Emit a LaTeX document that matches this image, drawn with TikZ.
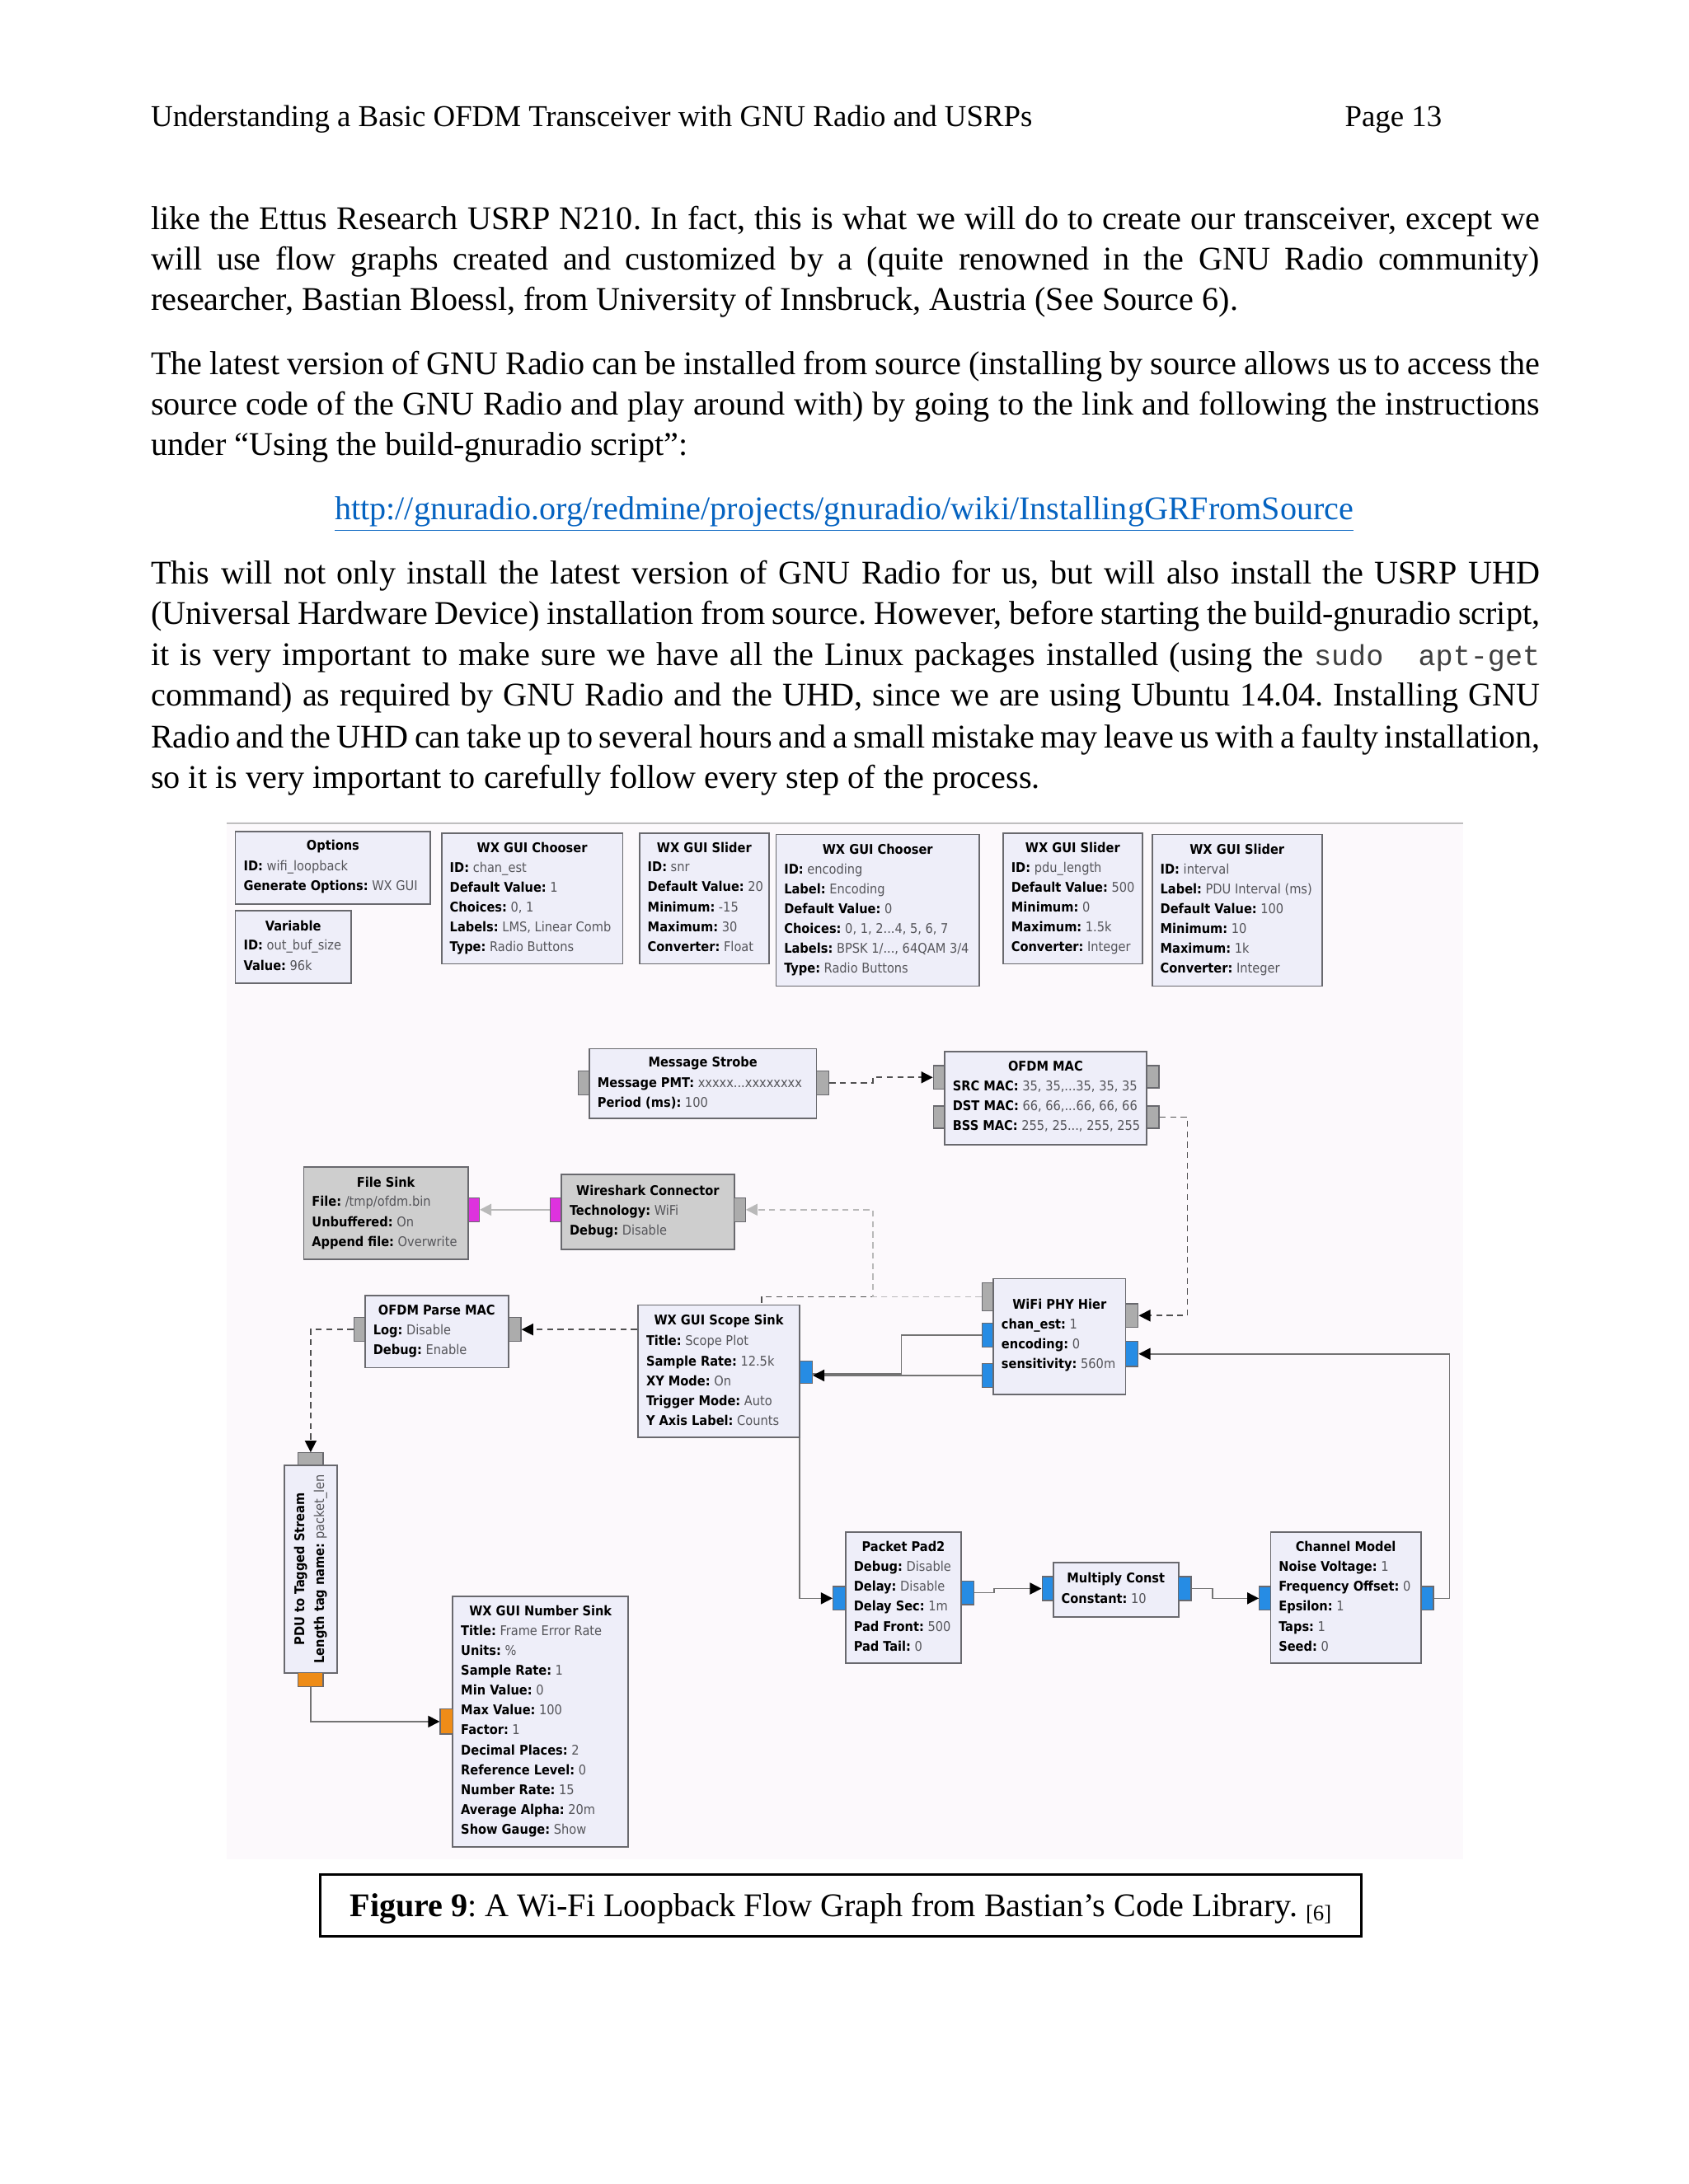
\documentclass[tikz,border=0pt]{standalone}
\usepackage{fontspec}
\setmainfont{Liberation Serif}
\setmonofont{Liberation Mono}
\newfontfamily\gfam{DejaVu Sans Condensed}
\usetikzlibrary{arrows.meta,fit,calc}
\pgfdeclarelayer{back}\pgfdeclarelayer{wires}
\pgfsetlayers{back,wires,main}
\frenchspacing
\definecolor{blkfill}{RGB}{238,238,249}
\definecolor{offfill}{RGB}{206,206,206}
\definecolor{blkedge}{RGB}{105,105,110}
\definecolor{portgray}{RGB}{172,172,172}
\definecolor{portblue}{RGB}{38,140,228}
\definecolor{portmag}{RGB}{222,50,222}
\definecolor{portorg}{RGB}{238,140,24}
\definecolor{figbg}{RGB}{252,249,252}
\definecolor{valc}{RGB}{85,85,90}
\definecolor{wire}{RGB}{115,115,115}
\definecolor{msgc}{RGB}{80,80,80}
\definecolor{offwire}{RGB}{185,185,185}
\definecolor{urlblue}{RGB}{5,99,193}
\newcommand\gfont{\gfam\fontsize{4.85}{7.2}\selectfont}
\newcommand\pv[2]{\textbf{#1:} {\color{valc}#2}}
\tikzset{
  blk/.style={draw=blkedge, line width=0.5pt, fill=blkfill, inner sep=0pt},
  offblk/.style={blk, fill=offfill},
  gportst/.style={draw=blkedge, line width=0.4pt, inner sep=0pt},
  tipblack/.style={-{Triangle[length=4.2pt,width=4.2pt,color=black]}},
  flow/.style={draw=wire, line width=0.5pt, tipblack},
  msgw/.style={draw=msgc, line width=0.5pt, dash pattern=on 2.2pt off 1.6pt, tipblack},
  offw/.style={draw=offwire, line width=0.5pt, dash pattern=on 2.2pt off 1.6pt, -{Triangle[length=4.2pt,width=4.2pt,color=offwire]}},
  offsolid/.style={draw=offwire, line width=0.6pt, -{Triangle[length=4.2pt,width=4.2pt,color=offwire]}},
  bodytext/.style={anchor=base west, inner sep=0pt, font=\fontsize{12}{14}\selectfont\frenchspacing},
  headtext/.style={anchor=base west, inner sep=0pt, font=\fontsize{11}{13}\selectfont},
}
\newcommand\gblock[7][11]{%
  \node[#5, fit={(#3) (#4)}] (#2) {};
  \node[font=\gfont\bfseries, inner sep=0pt] (#2t) at ($(#2.north)+(0,#1)$) {#6};
  \node[font=\gfont, align=left, inner sep=0pt, anchor=north west] (#2p) at ($(#2.north west)+(6,#1+10)$) {#7};}
\newcommand\gport[4]{\node[gportst, fill=#4, fit={(#2) (#3)}] (#1) {};}
\newcommand\jline[3]{\node[bodytext] (#1) at #2 {\makebox[503.5pt][s]{#3}};}
\begin{document}
\begin{tikzpicture}[x=0.505pt,y=-0.505pt]
\useasboundingbox (0,0) rectangle (1212,1568);
\begin{pgfonlayer}{back}
\fill[white] (0,0) rectangle (1212,1568);
\fill[figbg] (163,590) rectangle (1050,1335);
\draw[black!25, line width=0.6pt] (163,591) -- (1050,591);
\end{pgfonlayer}

% ---------- page text ----------
\node[headtext] (hdl) at (108,91) {Understanding a Basic OFDM Transceiver with GNU Radio and USRPs};
\node[headtext] (hdr) at (965,91) {Page 13};

\jline{pa1}{(108,165)}{like the Ettus Research USRP N210. In fact, this is what we will do to create our transceiver, except we}
\jline{pa2}{(108,194)}{will use flow graphs created and customized by a (quite renowned in the GNU Radio community)}
\node[bodytext] (pa3) at (108,223) {researcher, Bastian Bloessl, from University of Innsbruck, Austria (See Source 6).};

\jline{pb1}{(108,269)}{The latest version of GNU Radio can be installed from source (installing by source allows us to access the}
\jline{pb2}{(108,298)}{source code of the GNU Radio and play around with) by going to the link and following the instructions}
\node[bodytext] (pb3) at (108,327) {under “Using the build-gnuradio script”:};

\node[bodytext, anchor=base] (url) at (606,373) {\color{urlblue}\underline{http://gnuradio.org/redmine/projects/gnuradio/wiki/InstallingGRFromSource}};

\jline{pc1}{(108,419)}{This will not only install the latest version of GNU Radio for us, but will also install the USRP UHD}
\jline{pc2}{(108,448)}{(Universal Hardware Device) installation from source. However, before starting the build-gnuradio script,}
\jline{pc3}{(108,478)}{it is very important to make sure we have all the Linux packages installed (using the {\ttfamily\fontsize{10.5}{12}\selectfont\color{black!75}sudo~~apt-get}}
\jline{pc4}{(108,507)}{command) as required by GNU Radio and the UHD, since we are using Ubuntu 14.04. Installing GNU}
\jline{pc5}{(108,537)}{Radio and the UHD can take up to several hours and a small mistake may leave us with a faulty installation,}
\node[bodytext] (pc6) at (108,566) {so it is very important to carefully follow every step of the process.};

% ---------- flow graph blocks ----------
\gblock{opt}{169,597}{309,649}{blk}{Options}{\pv{ID}{wifi\_loopback}\\\pv{Generate Options}{WX GUI}}
\gblock{var}{169,654}{252,706}{blk}{Variable}{\pv{ID}{out\_buf\_size}\\\pv{Value}{96k}}
\gblock{chA}{317,598}{447,692}{blk}{WX GUI Chooser}{\pv{ID}{chan\_est}\\\pv{Default Value}{1}\\\pv{Choices}{0, 1}\\\pv{Labels}{LMS, Linear Comb}\\\pv{Type}{Radio Buttons}}
\gblock{slA}{459,598}{552,692}{blk}{WX GUI Slider}{\pv{ID}{snr}\\\pv{Default Value}{20}\\\pv{Minimum}{-15}\\\pv{Maximum}{30}\\\pv{Converter}{Float}}
\gblock{chB}{557,599}{703,708}{blk}{WX GUI Chooser}{\pv{ID}{encoding}\\\pv{Label}{Encoding}\\\pv{Default Value}{0}\\\pv{Choices}{0, 1, 2...4, 5, 6, 7}\\\pv{Labels}{BPSK 1/..., 64QAM 3/4}\\\pv{Type}{Radio Buttons}}
\gblock{slB}{720,598}{820,692}{blk}{WX GUI Slider}{\pv{ID}{pdu\_length}\\\pv{Default Value}{500}\\\pv{Minimum}{0}\\\pv{Maximum}{1.5k}\\\pv{Converter}{Integer}}
\gblock{slC}{827,599}{949,708}{blk}{WX GUI Slider}{\pv{ID}{interval}\\\pv{Label}{PDU Interval (ms)}\\\pv{Default Value}{100}\\\pv{Minimum}{10}\\\pv{Maximum}{1k}\\\pv{Converter}{Integer}}

\gblock{ms}{423,753}{586,803}{blk}{Message Strobe}{\pv{Message PMT}{xxxxx...xxxxxxxx}\\\pv{Period (ms)}{100}}
\gblock{mac}{678,755}{823,822}{blk}{OFDM MAC}{\pv{SRC MAC}{35, 35,...35, 35, 35}\\\pv{DST MAC}{66, 66,...66, 66, 66}\\\pv{BSS MAC}{255, 25..., 255, 255}}
\gblock{fs}{218,838}{336,904}{offblk}{File Sink}{\pv{File}{/tmp/ofdm.bin}\\\pv{Unbuffered}{On}\\\pv{Append file}{Overwrite}}
\gblock[12]{ws}{403,843}{527,897}{offblk}{Wireshark Connector}{\pv{Technology}{WiFi}\\\pv{Debug}{Disable}}
\gblock{pm}{262,930}{365,982}{blk}{OFDM Parse MAC}{\pv{Log}{Disable}\\\pv{Debug}{Enable}}
\gblock[12]{sc}{458,937}{574,1032}{blk}{WX GUI Scope Sink}{\pv{Title}{Scope Plot}\\\pv{Sample Rate}{12.5k}\\\pv{XY Mode}{On}\\\pv{Trigger Mode}{Auto}\\\pv{Y Axis Label}{Counts}}
\gblock[19]{phy}{713,918}{808,1001}{blk}{WiFi PHY Hier}{\pv{chan\_est}{1}\\\pv{encoding}{0}\\\pv{sensitivity}{560m}}
\gblock{pp}{607,1100}{690,1194}{blk}{Packet Pad2}{\pv{Debug}{Disable}\\\pv{Delay}{Disable}\\\pv{Delay Sec}{1m}\\\pv{Pad Front}{500}\\\pv{Pad Tail}{0}}
\gblock[12]{mc}{756,1122}{846,1161}{blk}{Multiply Const}{\pv{Constant}{10}}
\gblock{cm}{912,1100}{1020,1194}{blk}{Channel Model}{\pv{Noise Voltage}{1}\\\pv{Frequency Offset}{0}\\\pv{Epsilon}{1}\\\pv{Taps}{1}\\\pv{Seed}{0}}
\gblock{ns}{325,1146}{451,1326}{blk}{WX GUI Number Sink}{\pv{Title}{Frame Error Rate}\\\pv{Units}{\%}\\\pv{Sample Rate}{1}\\\pv{Min Value}{0}\\\pv{Max Value}{100}\\\pv{Factor}{1}\\\pv{Decimal Places}{2}\\\pv{Reference Level}{0}\\\pv{Number Rate}{15}\\\pv{Average Alpha}{20m}\\\pv{Show Gauge}{Show}}

\node[blk, fit={(204,1052) (242,1201)}] (pdu) {};
\node[rotate=90, align=center, font=\gfont, inner sep=0pt] (pdut) at (pdu.center) {\textbf{PDU to Tagged Stream}\\\pv{Length tag name}{packet\_len}};

% ---------- ports ----------
\gport{msin}{415,769}{423,786}{portgray}
\gport{msout}{586,769}{595,786}{portgray}
\gport{macinA}{670,765}{678,782}{portgray}
\gport{macinB}{670,794}{678,810}{portgray}
\gport{macoutA}{823,765}{832,781}{portgray}
\gport{macoutB}{823,794}{832,810}{portgray}
\gport{fsin}{336,860}{344,877}{portmag}
\gport{wsout}{395,860}{403,877}{portmag}
\gport{wsin}{527,860}{535,877}{portgray}
\gport{pmin}{365,946}{374,963}{portgray}
\gport{pmout}{254,946}{262,963}{portgray}
\gport{scin}{574,977}{583,993}{portblue}
\gport{phymo}{705,921}{713,941}{portgray}
\gport{phyoA}{705,950}{713,967}{portblue}
\gport{phyoB}{705,979}{713,996}{portblue}
\gport{phymi}{808,936}{817,953}{portgray}
\gport{phyi}{808,963}{817,981}{portblue}
\gport{pduin}{214,1043}{232,1052}{portgray}
\gport{pduout}{214,1201}{232,1211}{portorg}
\gport{nsin}{316,1227}{325,1245}{portorg}
\gport{ppin}{598,1139}{607,1156}{portblue}
\gport{ppout}{690,1135}{699,1152}{portblue}
\gport{mcin}{748,1132}{756,1149}{portblue}
\gport{mcout}{846,1132}{855,1149}{portblue}
\gport{cmin}{904,1139}{912,1156}{portblue}
\gport{cmout}{1020,1139}{1029,1156}{portblue}

% ---------- connectors ----------
\coordinate (bA) at (647,986.5);
\coordinate (bB) at (574,986.5);
\begin{pgfonlayer}{wires}
\draw[msgw] (msout.east) -| ($(msout.east)!0.42!(macinA.west)$) |- (macinA.west);
\draw[msgw] (macoutB.east) -- ++(20,0) |- (phymi.east);
\draw[msgw] (phymo.west) -- ++(-158,0) |- (pmin.east);
\draw[offw] (phymo.west) -- ++(-78,0) |- (wsin.east);
\draw[offsolid] (wsout.west) -- (fsin.east);
\draw[msgw] (pmout.west) -| (pduin.north);
\draw[flow] (pduout.south) |- (nsin.west);
\draw[flow] (phyoA.west) -| (bA) -- (bB) |- (ppin.west);
\draw[flow] (phyoB.west) -- (phyoB.west -| scin.east);
\draw[flow] (ppout.east) -- ++(14,0) |- (mcin.west);
\draw[flow] (mcout.east) -- ++(15,0) |- (cmin.west);
\draw[flow] (cmout.east) -- ++(11,0) |- (phyi.east);
\end{pgfonlayer}

% ---------- caption ----------
\node[draw=black, line width=0.9pt, inner sep=0pt, fit={(230,1346) (977,1390)}] (capbox) {};
\node[anchor=base, inner sep=0pt, font=\fontsize{12}{14}\selectfont] (cap) at (603.5,1376) {\textbf{Figure 9}: A Wi-Fi Loopback Flow Graph from Bastian’s Code Library. \raisebox{-1.5pt}{\fontsize{8}{8}\selectfont[6]}};
\end{tikzpicture}
\end{document}
